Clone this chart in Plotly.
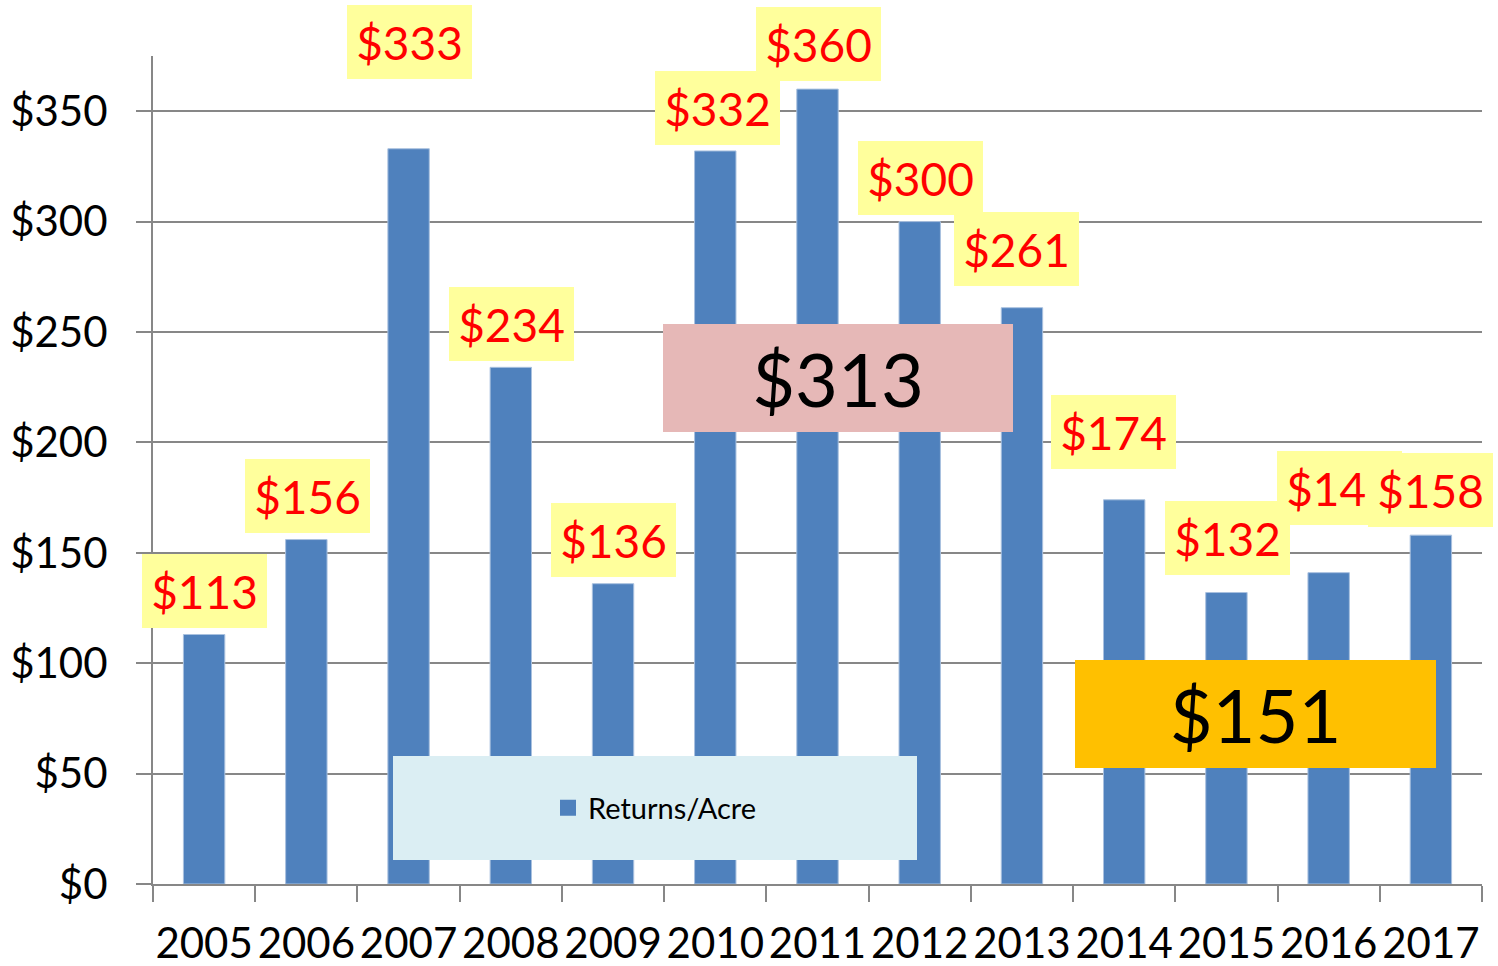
import plotly.graph_objects as go

years = ["2005", "2006", "2007", "2008", "2009", "2010", "2011", "2012", "2013", "2014", "2015", "2016", "2017"]
returns = [113, 156, 333, 234, 136, 332, 360, 300, 261, 174, 132, 141, 158]
series_name = "Returns/Acre"

# label offsets in pixels (style only)
label_dx = [0, 1, 1, 1, 0, 2, 1, 1, -5, -11, 1, 11, 0]
label_dy = [44, 44, 107, 43, 44, 43, 45, 44, 59, 68, 55, 85, 45]

avg_2010_2013 = sum(returns[5:9]) / 4
avg_2014_2017 = sum(returns[9:13]) / 4

FONT = "Lato"
GRID = "#878787"
BAR = "#4F81BD"

fig = go.Figure()
fig.add_trace(go.Bar(
    x=years, y=returns, name=series_name,
    marker=dict(color=BAR, line=dict(color="#A9C1DF", width=1)),
    width=0.405, showlegend=False,
))
# legend entry (no data points)
fig.add_trace(go.Scatter(
    x=[None], y=[None], mode="markers", name=series_name,
    marker=dict(symbol="square", size=18, color=BAR), showlegend=True,
))

for i, (yr, v, dx, dy) in enumerate(zip(years, returns, label_dx, label_dy)):
    fig.add_annotation(
        x=i, y=v, xref="x", yref="y", text=f"${v}",
        showarrow=False, xshift=dx, yshift=dy,
        width=125, height=74, borderpad=0, borderwidth=0,
        bgcolor="#FFFF9C", font=dict(family=FONT, size=46, color="#FF0000"),
        xanchor="center", yanchor="middle",
    )

# average boxes
fig.add_annotation(
    x=(838 - 153) / 1329, y=(884 - 378) / 828, xref="paper", yref="paper",
    text=f"${round(avg_2010_2013)}", showarrow=False,
    width=350, height=108, borderpad=0, borderwidth=0,
    bgcolor="#E6B8B7", font=dict(family=FONT, size=74, color="#000000"),
    xanchor="center", yanchor="middle",
)
fig.add_annotation(
    x=(1255 - 153) / 1329, y=(884 - 714) / 828, xref="paper", yref="paper",
    text=f"${round(avg_2014_2017)}", showarrow=False,
    width=361, height=108, borderpad=0, borderwidth=0,
    bgcolor="#FFC000", font=dict(family=FONT, size=74, color="#000000"),
    xanchor="center", yanchor="middle",
)

# legend background box
fig.add_shape(
    type="rect", xref="paper", yref="paper",
    x0=(393 - 153) / 1329, x1=(917 - 153) / 1329,
    y0=(884 - 860) / 828, y1=(884 - 756) / 828,
    fillcolor="#DBEEF3", line=dict(width=0), layer="above",
)

fig.update_layout(
    width=1498, height=966,
    margin=dict(l=153, r=16, t=56, b=82),
    paper_bgcolor="white", plot_bgcolor="white",
    font=dict(family=FONT, color="#000000"),
    legend=dict(
        x=(655 - 153) / 1329, y=(884 - 808) / 828, xanchor="center", yanchor="middle",
        bgcolor="rgba(0,0,0,0)", font=dict(family=FONT, size=29, color="#000000"),
        itemwidth=30,
    ),
)

fig.update_xaxes(
    type="category", range=[-0.5, len(years) - 0.5], autorange=False,
    showline=True, linecolor=GRID, linewidth=2,
    ticks="outside", tickson="boundaries", ticklen=16, tickwidth=2, tickcolor=GRID,
    tickfont=dict(family=FONT, size=42, color="#000000"),
    ticklabelstandoff=22, showgrid=False, automargin=False, tickangle=0,
)
fig.update_yaxes(
    range=[0, 375], autorange=False, dtick=50, tick0=0, tickprefix="$",
    showline=True, linecolor=GRID, linewidth=2,
    ticks="outside", ticklen=15, tickwidth=2, tickcolor=GRID,
    showgrid=True, gridcolor=GRID, gridwidth=2, zeroline=False,
    tickfont=dict(family=FONT, size=42, color="#000000"),
    ticklabelstandoff=20, automargin=False,
)

fig.write_html(
    "out.html",
    config={"displayModeBar": False},
    post_script="document.body.style.margin='0';document.body.style.overflow='hidden';",
)
